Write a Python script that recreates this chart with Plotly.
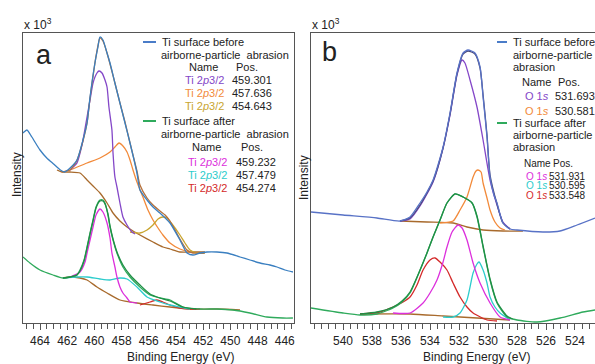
import plotly.graph_objects as go

# ---------------- Panel a : Ti 2p3/2 ----------------
a_raw_before_E = [465.25, 464.96, 464.6, 464.0, 463.5, 463.0, 462.5, 462.2, 461.79, 461.28, 460.84, 460.54,
                  460.32, 459.96, 459.74, 459.59, 459.37, 459.07, 458.85, 458.49, 458.12, 457.75, 457.38,
                  456.87, 456.65, 456.13, 455.69, 455.18, 454.44, 453.71, 453.19, 452.75, 452.24, 451.72,
                  450.99, 450.25, 449.29, 448.56, 447.82, 447.09, 446.57, 445.99, 445.40]
a_raw_before_I = [19.0, 19.3, 18.6, 17.3, 16.5, 15.9, 15.3, 15.1, 15.5, 16.3, 18.3, 20.0,
                  22.6, 26.0, 27.6, 28.6, 28.3, 27.0, 26.0, 24.0, 22.0, 20.0, 18.0,
                  15.0, 13.3, 12.3, 11.6, 11.0, 10.0, 8.3, 7.0, 6.8, 7.0, 7.1,
                  7.1, 7.0, 6.6, 6.3, 6.0, 5.8, 5.6, 5.3, 5.1]
a_env_before_E = [462.4, 461.8, 461.3, 460.84, 460.54, 460.32, 459.96, 459.74, 459.59, 459.37, 459.07, 458.85,
                  458.49, 458.12, 457.75, 457.38, 456.87, 456.65, 456.13, 455.69, 455.18, 454.8, 454.44,
                  453.71, 453.19, 452.75, 452.24, 451.9]
a_env_before_I = [15.1, 15.3, 16.2, 18.2, 20.0, 22.5, 26.0, 27.7, 28.5, 28.2, 27.0, 25.9,
                  24.0, 22.0, 20.1, 18.0, 15.2, 13.8, 12.5, 11.8, 11.2, 10.8, 10.2,
                  8.4, 7.3, 7.0, 7.0, 7.0]
a_bg_before_E = [462.75, 462.38, 461.79, 461.06, 460.54, 460.10, 459.59, 459.07, 458.63, 458.12, 457.60,
                 457.16, 456.65, 455.69, 454.96, 454.44, 453.71, 452.75, 451.87]
a_bg_before_I = [15.3, 15.1, 15.1, 15.0, 14.3, 13.7, 13.0, 12.0, 11.0, 10.2, 9.6,
                 9.2, 8.8, 8.1, 7.6, 7.4, 7.1, 7.1, 7.1]
a_p1_before_E = [461.79, 461.28, 460.91, 460.54, 460.32, 460.10, 459.81, 459.66, 459.44, 459.22, 459.07,
                 458.93, 458.71, 458.63, 458.49, 458.34, 458.12, 457.90, 457.60, 457.24, 457.01]
a_p1_before_I = [15.3, 16.0, 17.8, 20.6, 22.3, 24.0, 25.0, 25.2, 25.0, 24.3, 23.6,
                 21.6, 19.3, 17.0, 14.6, 13.6, 12.0, 10.6, 9.8, 9.1, 8.9]
a_p2_before_E = [462.38, 461.79, 460.54, 459.59, 458.85, 458.49, 458.19, 457.90, 457.60, 457.38, 457.16,
                 456.87, 456.43, 456.06, 455.69, 455.32, 454.96, 454.44, 453.71, 452.97]
a_p2_before_I = [15.1, 15.3, 16.0, 16.5, 17.1, 17.6, 18.0, 17.7, 17.1, 16.3, 15.3,
                 14.1, 12.6, 11.3, 10.3, 9.5, 8.8, 8.0, 7.4, 7.1]
a_p3_before_E = [457.38, 456.65, 456.13, 455.69, 455.32, 454.96, 454.66, 454.29, 453.71, 453.34, 452.97,
                 452.46, 451.87]
a_p3_before_I = [9.1, 9.0, 9.3, 9.8, 10.4, 10.6, 10.5, 9.9, 8.8, 8.0, 7.3, 7.0, 7.0]

a_raw_after_E = [465.25, 464.74, 464.0, 463.04, 462.31, 461.79, 461.28, 461.06, 460.76, 460.54, 460.32,
                 460.10, 459.88, 459.59, 459.37, 459.22, 459.0, 458.85, 458.63, 458.34, 457.90, 457.38,
                 456.65, 455.91, 455.18, 454.44, 453.49, 452.24, 450.99, 449.81, 448.56, 447.31, 446.13,
                 445.40]
a_raw_after_I = [6.6, 6.0, 5.3, 4.8, 4.5, 4.6, 4.8, 5.3, 6.3, 7.6, 9.0,
                 10.3, 11.6, 12.3, 12.3, 12.0, 10.8, 9.6, 8.3, 7.0, 5.6, 4.6,
                 3.6, 2.8, 2.5, 2.3, 1.6, 1.4, 1.4, 1.3, 1.0, 0.6, 0.5, 0.5]
a_env_after_E = [462.31, 461.79, 461.28, 461.06, 460.76, 460.54, 460.32, 460.10, 459.88, 459.59, 459.37,
                 459.22, 459.0, 458.85, 458.63, 458.34, 457.90, 457.38, 456.65, 455.91, 455.18, 454.44,
                 453.49, 452.5]
a_env_after_I = [4.5, 4.6, 4.8, 5.2, 6.2, 7.5, 8.9, 10.2, 11.5, 12.2, 12.2,
                 11.9, 10.9, 9.7, 8.4, 7.1, 5.8, 4.8, 3.8, 2.9, 2.5, 2.2,
                 1.6, 1.4]
a_bg_after_E = [462.31, 461.79, 461.06, 460.54, 459.81, 459.07, 458.12, 456.87, 455.69, 454.44, 452.97,
                450.99, 449.29]
a_bg_after_I = [4.5, 4.6, 4.5, 4.3, 3.6, 3.0, 2.3, 2.0, 1.8, 1.6, 1.4, 1.4, 1.3]
a_p1_after_E = [461.79, 461.06, 460.69, 460.54, 460.32, 460.10, 459.88, 459.59, 459.37, 459.07, 458.85,
                458.71, 458.49, 458.34, 458.12, 457.90, 457.60, 457.38, 456.87]
a_p1_after_I = [4.6, 5.1, 6.1, 7.0, 8.3, 9.6, 10.8, 11.4, 11.1, 10.0, 8.5,
                7.0, 5.6, 4.6, 3.6, 3.0, 2.5, 2.1, 2.0]
a_p2_after_E = [462.31, 461.28, 460.54, 459.59, 458.85, 458.12, 457.60, 456.87, 456.13, 455.18, 454.44,
                453.71, 452.97]
a_p2_after_I = [4.5, 4.6, 4.6, 4.4, 4.3, 4.5, 4.4, 3.6, 2.6, 2.1, 1.8, 1.6, 1.4]
a_p3_after_E = [456.65, 455.91, 455.40, 454.96, 454.44, 453.71, 452.97, 452.24]
a_p3_after_I = [1.8, 2.1, 2.3, 2.1, 1.8, 1.5, 1.4, 1.4]

# ---------------- Panel b : O 1s ----------------
b_raw_before_E = [542.21, 540.0, 537.66, 536.07, 535.38, 534.69, 534.21, 533.79, 533.45, 533.10, 532.62,
                  532.14, 531.72, 531.38, 530.90, 530.55, 530.34, 530.07, 529.86, 529.59, 529.38, 528.97,
                  528.48, 528.0, 526.21, 525.03, 523.86, 522.62]
b_raw_before_I = [11.1, 10.8, 10.5, 10.2, 10.6, 12.0, 13.1, 14.3, 15.8, 17.6, 21.0,
                  25.0, 27.0, 27.3, 27.0, 25.6, 22.6, 18.6, 14.6, 12.8, 12.0, 10.0,
                  9.4, 9.3, 9.1, 9.2, 9.8, 10.5]
b_env_before_E = [536.07, 535.38, 534.69, 533.79, 533.10, 532.62, 532.14, 531.72, 531.38, 530.90, 530.55,
                  530.34, 530.07, 529.86, 529.38, 528.97, 528.48]
b_env_before_I = [10.2, 10.5, 11.8, 14.2, 17.5, 20.9, 24.9, 26.9, 27.2, 26.9, 25.5,
                  22.8, 18.8, 14.8, 11.9, 10.0, 9.4]
b_bg_before_E = [536.07, 534.21, 532.41, 531.45, 530.34, 528.97, 527.59]
b_bg_before_I = [10.2, 10.1, 10.0, 9.6, 9.3, 9.2, 9.2]
b_p1_before_E = [536.07, 535.38, 534.69, 533.79, 533.10, 532.62, 532.14, 531.79, 531.59, 531.24, 530.76,
                 530.34, 529.86, 529.38, 528.97, 528.48]
b_p1_before_I = [10.2, 10.4, 11.7, 14.1, 17.5, 20.8, 24.8, 26.3, 26.0, 24.3, 21.6,
                 18.3, 14.3, 11.8, 10.1, 9.4]
b_p2_before_E = [533.31, 532.41, 531.93, 531.45, 531.03, 530.83, 530.69, 530.48, 530.34, 530.07, 529.86,
                 529.52, 529.17, 528.83]
b_p2_before_I = [10.0, 10.2, 11.3, 12.6, 14.6, 15.2, 15.3, 15.1, 14.0, 12.5, 11.3,
                 10.1, 9.5, 9.3]

b_raw_after_E = [542.21, 540.0, 538.83, 537.66, 536.55, 535.93, 535.38, 534.83, 534.21, 533.79, 533.31,
                 532.83, 532.28, 531.72, 531.10, 530.76, 530.34, 529.86, 529.38, 528.69, 528.0, 526.62,
                 525.03, 523.45, 522.62]
b_raw_after_I = [1.5, 1.0, 0.8, 0.9, 1.5, 2.1, 3.0, 4.8, 7.0, 8.6, 10.3,
                 12.0, 12.9, 12.6, 12.0, 10.6, 7.6, 4.3, 2.0, 0.6, 0.3, 0.1,
                 0.5, 1.1, 1.3]
b_env_after_E = [538.83, 537.66, 536.55, 535.93, 535.38, 534.83, 534.21, 533.79, 533.31, 532.83, 532.28,
                 531.72, 531.10, 530.76, 530.34, 529.86, 529.38, 528.69, 528.3]
b_env_after_I = [0.9, 1.1, 1.6, 2.2, 3.1, 4.8, 7.0, 8.6, 10.3, 12.0, 12.9,
                 12.6, 12.0, 10.7, 7.7, 4.4, 2.1, 0.7, 0.4]
b_bg_after_E = [538.83, 535.38, 533.10, 530.76, 528.48]
b_bg_after_I = [0.9, 0.9, 0.7, 0.5, 0.3]
b_p1_after_E = [536.55, 535.38, 534.48, 534.0, 533.52, 533.10, 532.83, 532.48, 532.07, 531.79, 531.45,
                531.03, 530.55, 529.86, 529.17, 528.48]
b_p1_after_I = [1.0, 1.0, 2.0, 3.0, 4.3, 6.1, 7.6, 9.1, 9.8, 9.5, 8.3,
                6.0, 4.0, 2.0, 0.6, 0.3]
b_p2_after_E = [533.10, 532.41, 531.93, 531.45, 531.03, 530.76, 530.62, 530.34, 530.07, 529.86, 529.52,
                529.17, 528.48]
b_p2_after_I = [0.6, 0.6, 1.0, 2.3, 5.0, 5.9, 6.1, 5.3, 4.0, 2.6, 1.6, 1.0, 0.3]
b_p3_after_E = [538.83, 537.45, 536.55, 535.86, 535.38, 534.90, 534.48, 534.0, 533.66, 533.31, 532.83,
                532.41, 531.93, 531.45, 531.03, 530.07, 529.38]
b_p3_after_I = [0.9, 1.1, 1.6, 2.1, 2.6, 3.8, 5.3, 6.3, 6.5, 6.1, 5.3,
                4.0, 2.6, 1.6, 1.0, 0.3, 0.2]

# legend tables
a_names = ["Ti 2<i>p</i>3/2", "Ti 2<i>p</i>3/2", "Ti 2<i>p</i>3/2"]
a_pos_before = ["459.301", "457.636", "454.643"]
a_pos_after = ["459.232", "457.479", "454.274"]
b_names = ["O 1<i>s</i>", "O 1<i>s</i>", "O 1<i>s</i>"]
b_pos_before = ["531.693", "530.581"]
b_pos_after = ["531.931", "530.595", "533.548"]

a_ticks = [464, 462, 460, 458, 456, 454, 452, 450, 448, 446]
b_ticks = [540, 538, 536, 534, 532, 530, 528, 526, 524]

BLUE_A = "#3a7fc0"
BLUE_B = "#5872c6"
GREEN = "#2faa5c"
GREEN_D = "#1f8f45"
BROWN = "#a86a2c"
PURPLE = "#8447c8"
ORANGE = "#f28a3a"
GOLD = "#c9a530"
MAGENTA = "#dc2fdc"
CYAN = "#2ccccc"
RED = "#d42a2a"
ENV_A = "#b5703a"
ENV_B = "#4a4a78"

fig = go.Figure()

def add(x, y, color, axis, w=1.3):
    fig.add_trace(go.Scatter(x=x, y=y, mode="lines", line=dict(color=color, width=w, shape="spline", smoothing=0.6),
                             xaxis="x" if axis == 1 else "x2", yaxis="y" if axis == 1 else "y2",
                             showlegend=False, hoverinfo="skip"))

# panel a
add(a_bg_before_E, a_bg_before_I, BROWN, 1)
add(a_p2_before_E, a_p2_before_I, ORANGE, 1)
add(a_p3_before_E, a_p3_before_I, GOLD, 1)
add(a_p1_before_E, a_p1_before_I, PURPLE, 1)
add(a_env_before_E, a_env_before_I, ENV_A, 1)
add(a_raw_before_E, a_raw_before_I, BLUE_A, 1)
add(a_bg_after_E, a_bg_after_I, BROWN, 1)
add(a_p3_after_E, a_p3_after_I, RED, 1)
add(a_p2_after_E, a_p2_after_I, CYAN, 1)
add(a_p1_after_E, a_p1_after_I, MAGENTA, 1)
add(a_raw_after_E, a_raw_after_I, GREEN, 1)
add(a_env_after_E, a_env_after_I, GREEN_D, 1)
# panel b
add(b_bg_before_E, b_bg_before_I, BROWN, 2)
add(b_p2_before_E, b_p2_before_I, ORANGE, 2)
add(b_p1_before_E, b_p1_before_I, PURPLE, 2)
add(b_env_before_E, b_env_before_I, ENV_B, 2)
add(b_raw_before_E, b_raw_before_I, BLUE_B, 2)
add(b_bg_after_E, b_bg_after_I, BROWN, 2)
add(b_p3_after_E, b_p3_after_I, RED, 2)
add(b_p2_after_E, b_p2_after_I, CYAN, 2)
add(b_p1_after_E, b_p1_after_I, MAGENTA, 2)
add(b_raw_after_E, b_raw_after_I, GREEN, 2)
add(b_env_after_E, b_env_after_I, GREEN_D, 2)

W, H = 595, 364
def px(x): return x / W
def py(y): return 1 - y / H

FONT = "Liberation Sans, Arial, sans-serif"
AX = "#555555"

xcommon = dict(showgrid=False, zeroline=False, showline=True, linecolor=AX, linewidth=1, mirror=True,
               ticks="outside", ticklen=6, tickwidth=1, tickcolor=AX, tickmode="array",
               ticklabelstandoff=1,
               tickfont=dict(size=12, color="#222", family=FONT),
               minor=dict(ticks="outside", ticklen=5, tickwidth=1, tickcolor=AX, dtick=0.5, showgrid=False))
ycommon = dict(showgrid=False, zeroline=False, showline=True, linecolor=AX, linewidth=1,
               showticklabels=False, ticks="", range=[0, 29], domain=[py(323), py(33)])

fig.update_layout(
    width=W, height=H, margin=dict(l=0, r=0, t=0, b=0),
    paper_bgcolor="white", plot_bgcolor="white",
    font=dict(family=FONT, color="#222"),
    xaxis=dict(domain=[px(23), px(294)], range=[465.25, 445.32], tickvals=a_ticks, anchor="y", **xcommon),
    yaxis=dict(anchor="x", mirror=True, **ycommon),
    xaxis2=dict(domain=[px(311), 1.0], range=[542.21, 522.62], tickvals=b_ticks, anchor="y2", **xcommon),
    yaxis2=dict(anchor="x2", mirror=False, **ycommon),
)

ann = []
def text(x, y, s, size=11, xanchor="left", color="#222", angle=0):
    ann.append(dict(x=px(x), y=py(y), xref="paper", yref="paper", text=s, showarrow=False,
                    xanchor=xanchor, yanchor="middle", textangle=angle,
                    font=dict(size=size, color=color, family=FONT)))

# axis titles and panel labels
text(180, 356.5, "Binding Energy (eV)", 12, "center")
text(476, 356.5, "Binding Energy (eV)", 12, "center")
text(17, 175, "Intensity", 12, "center", angle=-90)
text(304, 178, "Intensity", 12, "center", angle=-90)
text(22, 24, "x 10<sup>3</sup>", 12)
text(310, 24, "x 10<sup>3</sup>", 12)
text(34, 55, "a", 27)
text(320, 52, "b", 27)

shapes = []
def swatch(x0, x1, y, color):
    shapes.append(dict(type="line", xref="paper", yref="paper", x0=px(x0), x1=px(x1), y0=py(y), y1=py(y),
                       line=dict(color=color, width=2)))

# panel a legend
swatch(143, 156, 42, "#4a7cc8")
text(160, 42, "Ti surface before")
text(159, 55, "airborne-particle  abrasion")
text(203, 67, "Name", 11, "center")
text(247, 67, "Pos.", 11, "center")
for i, (c, n, v) in enumerate(zip([PURPLE, ORANGE, GOLD], a_names, a_pos_before)):
    yy = 80 + 13 * i
    text(183, yy, n, 11, "left", c)
    text(230, yy, v)
swatch(143, 156, 121, GREEN)
text(160, 121, "Ti surface after")
text(159, 134, "airborne-particle  abrasion")
text(206, 147, "Name", 11, "center")
text(252, 147, "Pos.", 11, "center")
for i, (c, n, v) in enumerate(zip([MAGENTA, CYAN, RED], a_names, a_pos_after)):
    yy = 162 + 13 * i
    text(186, yy, n, 11, "left", c)
    text(234, yy, v)

# panel b legend
swatch(497, 507, 42, "#4a7cc8")
text(511, 42, "Ti surface before")
text(511, 55, "airborne-particle")
text(511, 67, "abrasion")
text(520, 82, "Name")
text(556, 82, "Pos.")
for i, (c, n, v) in enumerate(zip([PURPLE, ORANGE], b_names, b_pos_before)):
    yy = 96 + 15 * i
    text(523, yy, n, 11, "left", c)
    text(553, yy, v)
swatch(497, 507, 123, GREEN)
text(511, 123, "Ti surface after")
text(511, 135, "airborne-particle")
text(511, 147, "abrasion")
text(522, 163, "Name", 10)
text(551, 163, "Pos.", 10)
for i, (c, n, v) in enumerate(zip([MAGENTA, CYAN, RED], b_names, b_pos_after)):
    yy = 176 + 9.5 * i
    text(524, yy, n, 10, "left", c)
    text(547, yy, v, 10)

fig.update_layout(annotations=ann, shapes=shapes)
fig.write_html("out.html", config={"displayModeBar": False},
               post_script="document.body.style.margin='0';document.body.style.overflow='hidden';")
